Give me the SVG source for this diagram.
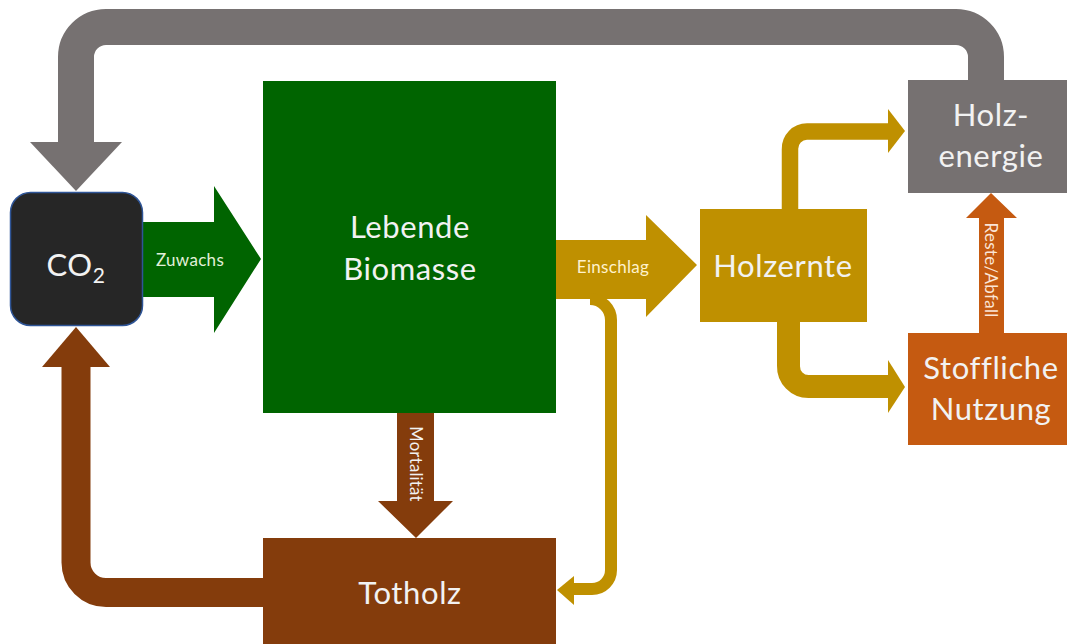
<svg xmlns="http://www.w3.org/2000/svg" width="1067" height="644" viewBox="0 0 1067 644">
<style>
.big{font-family:Lato,"Open Sans","Liberation Sans",sans-serif;font-size:31px;letter-spacing:0.6px;fill:#f2f2f2;text-anchor:middle}
.small{font-family:Lato,"Open Sans","Liberation Sans",sans-serif;font-size:17px;letter-spacing:0.3px;text-anchor:middle}
.flow{fill:none;stroke-linejoin:round}
</style>
<rect width="1067" height="644" fill="#ffffff"/>
<g id="connectors">
  <path class="flow" d="M986 82 L986 57 A30 30 0 0 0 956 27 L106 27 A30 30 0 0 0 76 57 L76 143" stroke="#767171" stroke-width="36"/>
  <polygon points="30,142 122,142 76,191" fill="#767171"/>
  <polygon points="142,222 214,222 214,186 261,259 214,333 214,297 142,297" fill="#006400"/>
  <text class="small" x="190" y="266" fill="#e2f0d9">Zuwachs</text>
  <polygon points="556,240 646,240 646,215 697,265 646,317 646,299 556,299" fill="#bf9000"/>
  <text class="small" x="613" y="273" fill="#fff2cc">Einschlag</text>
  <path class="flow" d="M590 299 A21 21 0 0 1 611 320 L611 570 A19 19 0 0 1 592 589 L572 589" stroke="#bf9000" stroke-width="12"/>
  <polygon points="574,576 574,605 557,590" fill="#bf9000"/>
  <polygon points="397,412 434,412 434,501 453,501 416,538 378,501 397,501" fill="#843c0c"/>
  <text class="small" x="0" y="0" dy="6" fill="#f2f2f2" style="font-size:16.5px" transform="translate(416,464) rotate(90)">Mortalität</text>
  <path class="flow" d="M264 592.5 L106 592.5 A30 30 0 0 1 76 562.5 L76 366" stroke="#843c0c" stroke-width="29"/>
  <polygon points="42,367 110,367 76,327" fill="#843c0c"/>
  <path class="flow" d="M790 210 L790 149 A17 17 0 0 1 807 131.5 L889 131.5" stroke="#bf9000" stroke-width="16.5"/>
  <polygon points="888,109 888,153 905,131" fill="#bf9000"/>
  <path class="flow" d="M788.5 320 L788.5 366 A20 20 0 0 0 808.5 386.5 L889 386.5" stroke="#bf9000" stroke-width="23"/>
  <polygon points="888,360 888,413 905,387" fill="#bf9000"/>
  <polygon points="979,334 1004,334 1004,218 1017,218 991,193 966,218 979,218" fill="#c55a11"/>
  <text class="small" x="0" y="0" dy="6" fill="#fbe5d6" transform="translate(991,270) rotate(90)">Reste/Abfall</text>
</g>
<g id="co2">
  <rect x="10.5" y="192.5" width="132" height="133" rx="20" fill="#262626" stroke="#2f5597" stroke-width="1.5"/>
  <text class="big" x="76" y="276">CO<tspan font-size="21" dy="7">2</tspan></text>
</g>
<g id="lebende-biomasse">
  <rect x="263" y="81" width="293" height="332" fill="#006400"/>
  <text class="big" x="410" y="238">Lebende</text>
  <text class="big" x="410" y="280">Biomasse</text>
</g>
<g id="totholz">
  <rect x="263" y="538" width="293" height="106" fill="#843c0c"/>
  <text class="big" x="410" y="604">Totholz</text>
</g>
<g id="holzernte">
  <rect x="700" y="209" width="167" height="113" fill="#bf9000"/>
  <text class="big" x="783" y="277">Holzernte</text>
</g>
<g id="holzenergie">
  <rect x="908" y="80" width="159" height="113" fill="#767171"/>
  <text class="big" x="991" y="126">Holz-</text>
  <text class="big" x="991" y="167">energie</text>
</g>
<g id="stoffliche-nutzung">
  <rect x="908" y="333" width="159" height="112" fill="#c55a11"/>
  <text class="big" x="991" y="379">Stoffliche</text>
  <text class="big" x="991" y="420">Nutzung</text>
</g>
</svg>
